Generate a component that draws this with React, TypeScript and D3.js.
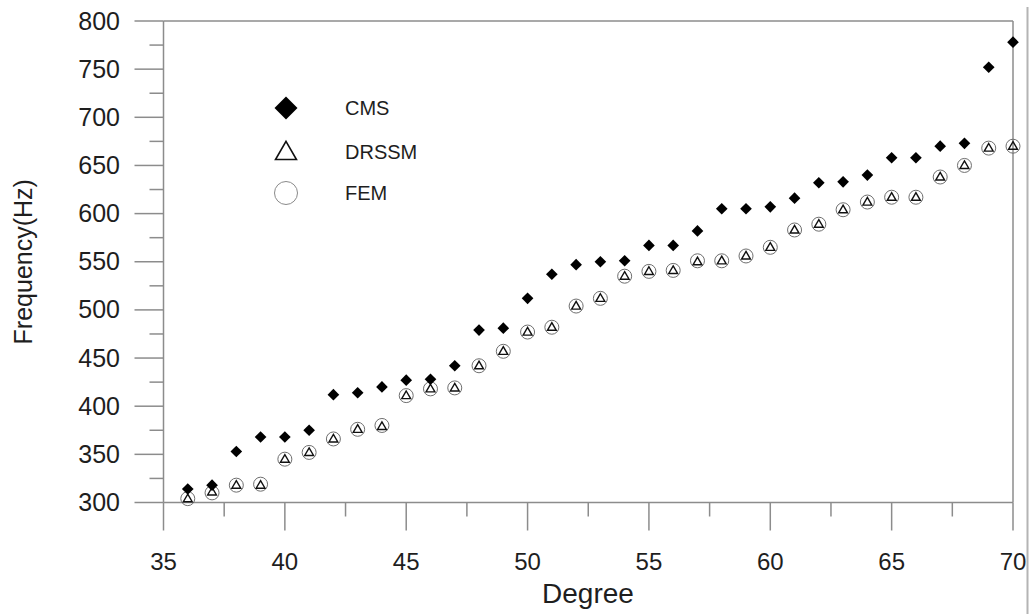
import React from "react";
import * as d3 from "d3";

// Mode degree (category axis)
const degrees = [36, 37, 38, 39, 40, 41, 42, 43, 44, 45, 46, 47, 48, 49, 50, 51, 52, 53, 54, 55, 56, 57, 58, 59, 60, 61, 62, 63, 64, 65, 66, 67, 68, 69, 70];

// Natural frequencies (Hz) per method
const cmsValues = [314, 318, 353, 368, 368, 375, 412, 414, 420, 427, 428, 442, 479, 481, 512, 537, 547, 550, 551, 567, 567, 582, 605, 605, 607, 616, 632, 633, 640, 658, 658, 670, 673, 752, 778];
const drssmValues = [304, 311, 318, 318, 345, 352, 366, 376, 379, 411, 418, 419, 442, 457, 477, 482, 504, 512, 535, 540, 541, 550, 551, 556, 565, 583, 589, 604, 612, 617, 617, 638, 650, 668, 670];
const femValues = [304, 310, 318, 319, 345, 352, 366, 376, 380, 411, 418, 419, 442, 457, 477, 482, 504, 512, 535, 540, 541, 551, 551, 556, 565, 583, 589, 604, 612, 617, 617, 638, 650, 668, 670];

const xTicks = [35, 40, 45, 50, 55, 60, 65, 70];
const yTicks = [300, 350, 400, 450, 500, 550, 600, 650, 700, 750, 800];
const legendLabels = ["CMS", "DRSSM", "FEM"];

const W = 1032;
const H = 614;
const left = 163.5;
const right = 1013;
const top = 21;
const bottom = 502.5;

const axisColor = "#8c8c8c";
const textColor = "#1e1e1e";
const font = "Arial, 'Liberation Sans', sans-serif";

export default function App() {
  const x = d3.scaleLinear().domain([35, 70]).range([left, right]);
  const y = d3.scaleLinear().domain([300, 800]).range([bottom, top]);

  const xMinor = d3.range(35, 70.01, 2.5).filter((v) => v % 5 !== 0);
  const yMinor = d3.range(300, 800.01, 25).filter((v) => v % 50 !== 0);

  const diamond = (size: number) => d3.symbol().type(d3.symbolSquare).size(size)()!;
  const triangle = (size: number) => d3.symbol().type(d3.symbolTriangle).size(size)()!;

  const legendX = 286;
  const legendY = [108, 152, 193];

  return (
    <svg
      width={W}
      height={H}
      style={{ position: "absolute", left: 0, top: 0, background: "#fff" }}
      fontFamily={font}
    >
      <rect x={0} y={0} width={W} height={H} fill="#fff" />
      {/* page edge on the right */}
      <line x1={1027.5} x2={1027.5} y1={7} y2={H} stroke="#b4b4b4" strokeWidth={2} />

      {/* frame */}
      <line x1={left} x2={right} y1={top} y2={top} stroke={axisColor} strokeWidth={1.5} />
      <line x1={right} x2={right} y1={top} y2={bottom} stroke={axisColor} strokeWidth={1.5} />
      <line x1={left} x2={right} y1={bottom} y2={bottom} stroke={axisColor} strokeWidth={1.5} />
      <line x1={left} x2={left} y1={top} y2={bottom} stroke={axisColor} strokeWidth={1.5} />

      {/* x axis ticks */}
      {xTicks.map((t) => (
        <g key={"xt" + t}>
          <line x1={x(t)} x2={x(t)} y1={bottom} y2={bottom + 28} stroke={axisColor} strokeWidth={1.5} />
          <text x={x(t)} y={570} textAnchor="middle" fontSize={24} fill={textColor}>
            {t}
          </text>
        </g>
      ))}
      {xMinor.map((t) => (
        <line key={"xm" + t} x1={x(t)} x2={x(t)} y1={bottom} y2={bottom + 14} stroke={axisColor} strokeWidth={1.5} />
      ))}

      {/* y axis ticks */}
      {yTicks.map((t) => (
        <g key={"yt" + t}>
          <line x1={left - 29} x2={left} y1={y(t)} y2={y(t)} stroke={axisColor} strokeWidth={1.5} />
          <text x={120} y={y(t) + 8.5} textAnchor="end" fontSize={25} fill={textColor}>
            {t}
          </text>
        </g>
      ))}
      {yMinor.map((t) => (
        <line key={"ym" + t} x1={left - 14} x2={left} y1={y(t)} y2={y(t)} stroke={axisColor} strokeWidth={1.5} />
      ))}

      {/* axis titles */}
      <text x={588} y={603} textAnchor="middle" fontSize={28} fill={textColor}>
        Degree
      </text>
      <text
        transform={`translate(32, ${(top + bottom) / 2}) rotate(-90)`}
        textAnchor="middle"
        fontSize={25}
        fill={textColor}
      >
        Frequency(Hz)
      </text>

      {/* FEM circles */}
      {degrees.map((d, i) => (
        <circle key={"f" + d} cx={x(d)} cy={y(femValues[i])} r={7} fill="none" stroke="#6e6e6e" strokeWidth={1} />
      ))}
      {/* DRSSM triangles */}
      {degrees.map((d, i) => (
        <path
          key={"r" + d}
          d={triangle(34)}
          transform={`translate(${x(d)}, ${y(drssmValues[i]) + 0.5})`}
          fill="none"
          stroke="#111"
          strokeWidth={1.4}
        />
      ))}
      {/* CMS diamonds */}
      {degrees.map((d, i) => (
        <path
          key={"c" + d}
          d={diamond(68)}
          transform={`translate(${x(d)}, ${y(cmsValues[i])}) rotate(45)`}
          fill="#000"
        />
      ))}

      {/* legend */}
      <path d={diamond(265)} transform={`translate(${legendX}, ${legendY[0]}) rotate(45)`} fill="#000" />
      <path
        d={triangle(190)}
        transform={`translate(${legendX}, ${legendY[1] + 1.5})`}
        fill="none"
        stroke="#111"
        strokeWidth={1.6}
      />
      <circle cx={legendX} cy={legendY[2]} r={11.5} fill="none" stroke="#8a8a8a" strokeWidth={1} />
      {legendLabels.map((l, i) => (
        <text key={l} x={345} y={legendY[i] + 7} fontSize={20} fill={textColor}>
          {l}
        </text>
      ))}
    </svg>
  );
}
